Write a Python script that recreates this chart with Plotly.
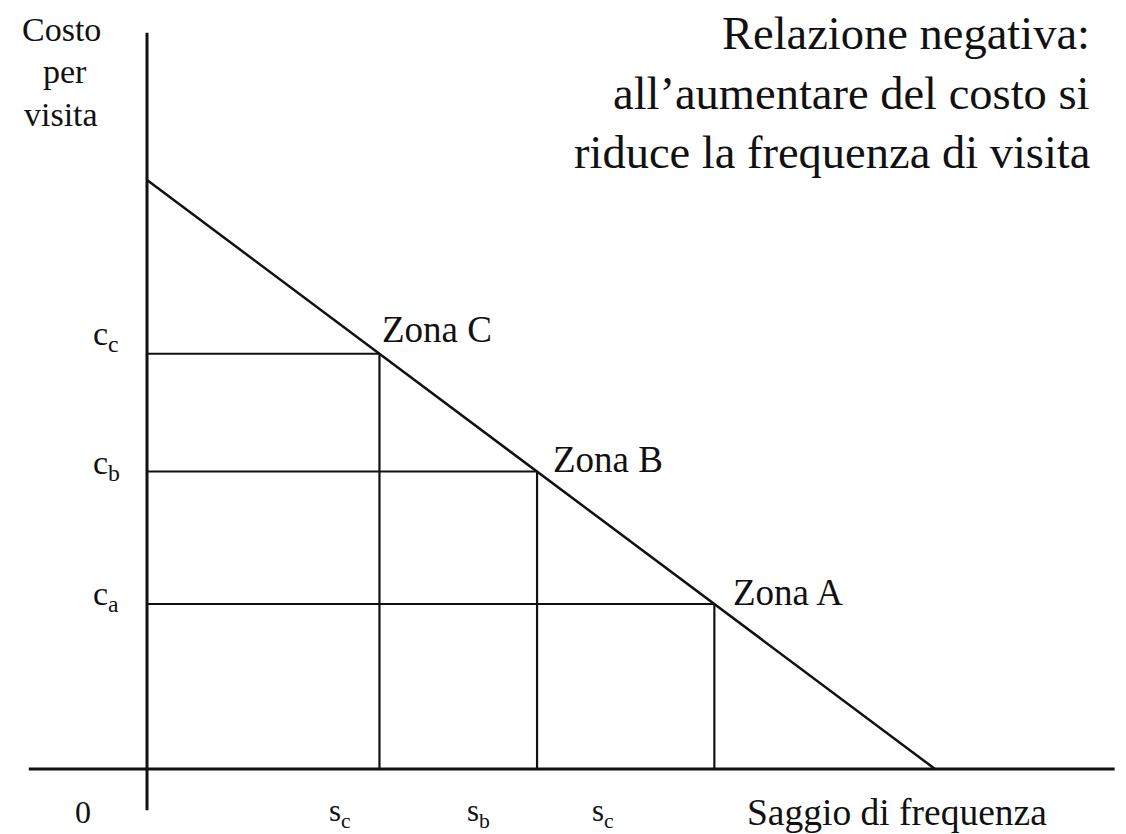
import plotly.graph_objects as go

# ---- data ----
zones = ["Zona C", "Zona B", "Zona A"]
freq_values = [2.95, 4.95, 7.2]        # saggio di frequenza per zona
cost_values = [7.05, 5.05, 2.8]        # costo per visita per zona
cost_labels = ["c<sub>c</sub>", "c<sub>b</sub>", "c<sub>a</sub>"]
freq_labels = ["s<sub>c</sub>", "s<sub>b</sub>", "s<sub>c</sub>"]
y_title_lines = ["Costo", "per", "visita"]
demand_x = [0.0, 10.0]
demand_y = [10.0, 0.0]
x_axis_extent = [-1.5, 12.28]
y_axis_extent = [-0.70, 12.5]

# page is drawn with an 8px body margin -> compensate
OFF = 8
W, H = 1126 - OFF, 834 - OFF
FONT = "Liberation Serif, Times New Roman, serif"
BLACK = "#111111"


def px(x):
    return (x - OFF) / W


def py(y):
    return 1 - (y - OFF) / H


fig = go.Figure()

# axes
fig.add_trace(go.Scatter(x=x_axis_extent, y=[0, 0], mode="lines",
                         line=dict(color=BLACK, width=3), hoverinfo="skip"))
fig.add_trace(go.Scatter(x=[0, 0], y=y_axis_extent, mode="lines",
                         line=dict(color=BLACK, width=3), hoverinfo="skip"))

# drop lines
for s, c in zip(freq_values, cost_values):
    fig.add_trace(go.Scatter(x=[0, s], y=[c, c], mode="lines",
                             line=dict(color=BLACK, width=2), hoverinfo="skip"))
    fig.add_trace(go.Scatter(x=[s, s], y=[c, 0], mode="lines",
                             line=dict(color=BLACK, width=2.2), hoverinfo="skip"))

# demand line
fig.add_trace(go.Scatter(x=demand_x, y=demand_y, mode="lines",
                         line=dict(color=BLACK, width=2.5), hoverinfo="skip"))

ann = []
# zone labels
zone_shifts = [(1, 24), (14, 12), (17, 12)]
for z, s, c, (dx, dy) in zip(zones, freq_values, cost_values, zone_shifts):
    ann.append(dict(x=s, y=c, xref="x", yref="y", text=z, showarrow=False,
                    xanchor="left", yanchor="middle", xshift=dx, yshift=dy,
                    font=dict(family=FONT, size=37, color=BLACK)))

# cost labels (y axis)
cost_shifts = [18, 7, 8]
for lab, c, dy in zip(cost_labels, cost_values, cost_shifts):
    ann.append(dict(x=px(106), y=c, xref="paper", yref="y", text=lab, showarrow=False,
                    xanchor="center", yanchor="middle", yshift=dy,
                    font=dict(family=FONT, size=34, color=BLACK)))

# frequency labels (x axis)
freq_px = [340, 478, 603]
for lab, xp in zip(freq_labels, freq_px):
    ann.append(dict(x=px(xp), y=py(813), xref="paper", yref="paper", text=lab,
                    showarrow=False, xanchor="center", yanchor="middle",
                    font=dict(family=FONT, size=31, color=BLACK)))

# origin
ann.append(dict(x=px(83), y=py(812), xref="paper", yref="paper", text="0",
                showarrow=False, xanchor="center", yanchor="middle",
                font=dict(family=FONT, size=32, color=BLACK)))

# axis titles
ann.append(dict(x=px(745), y=py(812), xref="paper", yref="paper",
                text="Saggio di frequenza", showarrow=False,
                xanchor="left", yanchor="middle",
                font=dict(family=FONT, size=37.5, color=BLACK)))
for t, xp, yp in zip(y_title_lines, [61, 65, 61], [29, 71, 114]):
    ann.append(dict(x=px(xp), y=py(yp), xref="paper", yref="paper",
                    text=t, showarrow=False,
                    xanchor="center", yanchor="middle",
                    font=dict(family=FONT, size=34, color=BLACK)))

# top-right note
note_lines = ["Relazione negativa:", "all\u2019aumentare del costo si",
              "riduce la frequenza di visita"]
note_centers = [34, 94, 153]
for t, yp in zip(note_lines, note_centers):
    ann.append(dict(x=px(1092), y=py(yp), xref="paper", yref="paper", text=t,
                    showarrow=False, xanchor="right", yanchor="middle",
                    font=dict(family=FONT, size=46.5, color=BLACK)))

fig.update_layout(
    width=W, height=H,
    margin=dict(l=0, r=0, t=0, b=0),
    paper_bgcolor="white", plot_bgcolor="white",
    showlegend=False,
    annotations=ann,
    xaxis=dict(range=[(OFF - 147) / 78.8, (1126 - 147) / 78.8], visible=False, fixedrange=True),
    yaxis=dict(range=[(769 - 834) / 58.9, (769 - OFF) / 58.9], visible=False, fixedrange=True),
)

fig.write_html("out.html", config={"displayModeBar": False})
